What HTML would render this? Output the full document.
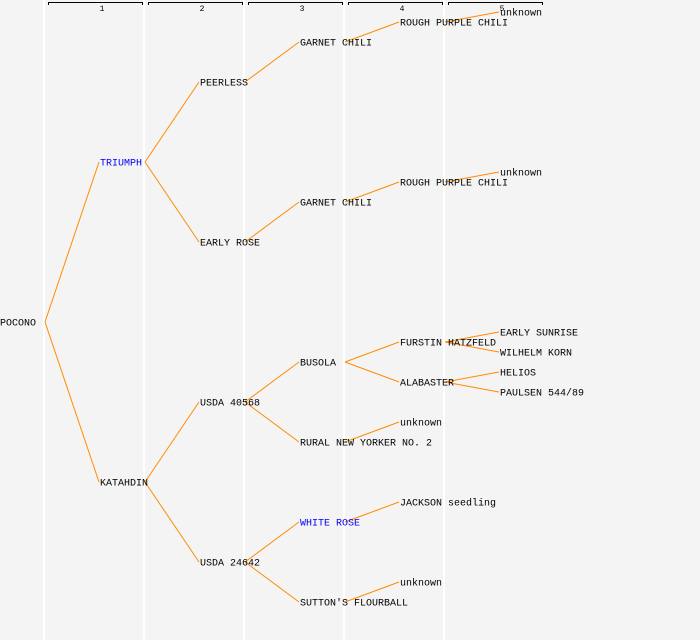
<!DOCTYPE html>
<html><head><style>body{margin:0;background:#f4f4f4}svg{display:block}</style></head><body>
<svg width="700" height="640" xmlns="http://www.w3.org/2000/svg" font-family="Liberation Mono, monospace" font-size="10">
<rect width="700" height="640" fill="#f4f4f4"/>
<g stroke="#fff" stroke-width="2">
<line x1="44" y1="0" x2="44" y2="640"/><line x1="144" y1="0" x2="144" y2="640"/><line x1="244" y1="0" x2="244" y2="640"/><line x1="344" y1="0" x2="344" y2="640"/><line x1="444" y1="0" x2="444" y2="640"/>
</g>
<g stroke="#000" fill="none" stroke-width="1">
<path d="M48.5 5V2.5H142.5V5"/><path d="M148.5 5V2.5H242.5V5"/><path d="M248.5 5V2.5H342.5V5"/><path d="M348.5 5V2.5H442.5V5"/><path d="M448.5 5V2.5H542.5V5"/>
</g>
<g font-size="8" text-anchor="middle" fill="#000">
<text x="102" y="11">1</text><text x="202" y="11">2</text><text x="302" y="11">3</text><text x="402" y="11">4</text><text x="502" y="11">5</text>
</g>
<g stroke="#ff8c00" stroke-width="1" fill="none">
<line x1="45" y1="322" x2="99" y2="162"/><line x1="45" y1="322" x2="99" y2="482"/>
<line x1="145" y1="162" x2="199" y2="82"/><line x1="145" y1="162" x2="199" y2="242"/>
<line x1="145" y1="482" x2="199" y2="402"/><line x1="145" y1="482" x2="199" y2="562"/>
<line x1="245" y1="82" x2="299" y2="42"/><line x1="245" y1="242" x2="299" y2="202"/>
<line x1="245" y1="402" x2="299" y2="362"/><line x1="245" y1="402" x2="299" y2="442"/>
<line x1="245" y1="562" x2="299" y2="522"/><line x1="245" y1="562" x2="299" y2="602"/>
<line x1="345" y1="42" x2="399" y2="22"/><line x1="345" y1="202" x2="399" y2="182"/>
<line x1="345" y1="362" x2="399" y2="342"/><line x1="345" y1="362" x2="399" y2="382"/>
<line x1="345" y1="442" x2="399" y2="422"/><line x1="345" y1="522" x2="399" y2="502"/>
<line x1="345" y1="602" x2="399" y2="582"/>
<line x1="445" y1="22" x2="499" y2="12"/><line x1="445" y1="182" x2="499" y2="172"/>
<line x1="445" y1="342" x2="499" y2="332"/><line x1="445" y1="342" x2="499" y2="352"/>
<line x1="445" y1="382" x2="499" y2="372"/><line x1="445" y1="382" x2="499" y2="392"/>
</g>
<g fill="#000" dominant-baseline="central" transform="translate(0,2)">
<text x="0" y="322">POCONO</text>
<text x="100" y="162" fill="#0000ff">TRIUMPH</text>
<text x="100" y="482">KATAHDIN</text>
<text x="200" y="82">PEERLESS</text>
<text x="200" y="242">EARLY ROSE</text>
<text x="200" y="402">USDA 40568</text>
<text x="200" y="562">USDA 24642</text>
<text x="300" y="42">GARNET CHILI</text>
<text x="300" y="202">GARNET CHILI</text>
<text x="300" y="362">BUSOLA</text>
<text x="300" y="442">RURAL NEW YORKER NO. 2</text>
<text x="300" y="522" fill="#0000ff">WHITE ROSE</text>
<text x="300" y="602">SUTTON'S FLOURBALL</text>
<text x="400" y="22">ROUGH PURPLE CHILI</text>
<text x="400" y="182">ROUGH PURPLE CHILI</text>
<text x="400" y="342">FURSTIN HATZFELD</text>
<text x="400" y="382">ALABASTER</text>
<text x="400" y="422">unknown</text>
<text x="400" y="502">JACKSON seedling</text>
<text x="400" y="582">unknown</text>
<text x="500" y="12">unknown</text>
<text x="500" y="172">unknown</text>
<text x="500" y="332">EARLY SUNRISE</text>
<text x="500" y="352">WILHELM KORN</text>
<text x="500" y="372">HELIOS</text>
<text x="500" y="392">PAULSEN 544/89</text>
</g>
</svg>
</body></html>
